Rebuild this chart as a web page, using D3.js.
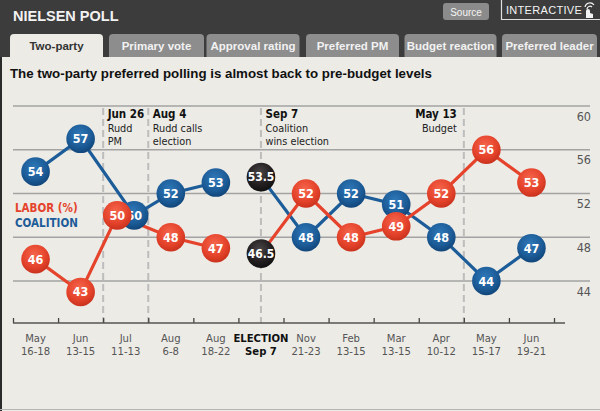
<!DOCTYPE html>
<html><head><meta charset="utf-8">
<script src="https://cdn.jsdelivr.net/npm/d3@7"></script>
<style>
html,body{margin:0;padding:0;background:#3c3c3c;}
svg{display:block;}
</style></head>
<body>
<svg id="chart" width="600" height="411"></svg>
<script>
// ---- data ----
const monthLabels = ["May","Jun","Jul","Aug","Aug","ELECTION","Nov","Feb","Mar","Apr","May","Jun"];
const dayLabels   = ["16-18","13-15","11-13","6-8","18-22","Sep 7","21-23","13-15","13-15","10-12","15-17","19-21"];
const labor     = [46,43,50,48,47,46.5,52,48,49,52,56,53];
const coalition = [54,57,50,52,53,53.5,48,52,51,48,44,47];
const electionIndex = 5;           // result point, drawn in black
const segments = [[0,4],[5,11]];   // connected runs of polls
const yTicks = [44,48,52,56,60];
const eventPos   = [2, 3, 5.5, 10];   // on the category index axis
const eventDates = ["Jun 26","Aug 4","Sep 7","May 13"];
const eventText  = [["Rudd","PM"],["Rudd calls","election"],["Coalition","wins election"],["Budget"]];
const eventAlign = ["start","start","start","end"];
const tabs = ["Two-party","Primary vote","Approval rating","Preferred PM","Budget reaction","Preferred leader"];
const title = "The two-party preferred polling is almost back to pre-budget levels";

const svg = d3.select("#chart");
const RED = "#e5432b", BLUE = "#1c5c98", BLACK = "#231f20";
const BG = "#ecebe6";
const cond = "'DejaVu Sans Condensed','DejaVu Sans',sans-serif";
const arial = "'Liberation Sans',Arial,sans-serif";

// ---- header ----
svg.append("rect").attr("x",0).attr("y",0).attr("width",600).attr("height",411).attr("fill","#3c3c3c");
svg.append("text").attr("x",13).attr("y",20.5).text("NIELSEN POLL")
  .attr("font-family",arial).attr("font-weight","bold").attr("font-size",14.5).attr("fill","#f2f2f2");
svg.append("rect").attr("x",443).attr("y",3).attr("width",46).attr("height",17).attr("rx",3).attr("fill","#8b8b8b");
svg.append("text").attr("x",466).attr("y",15.5).attr("text-anchor","middle").text("Source")
  .attr("font-family",arial).attr("font-size",10).attr("fill","#f4f4f4");
svg.append("path").attr("d","M501.5,0 V19.5 H600").attr("fill","none").attr("stroke","#e0e0e0").attr("stroke-width",1.2);
svg.append("text").attr("x",506).attr("y",14).text("INTERACTIVE")
  .attr("font-family",arial).attr("font-size",11).attr("letter-spacing",0.3).attr("fill","#f4f4f4");
// small touch icon
const ic = svg.append("g").attr("transform","translate(589,8)").attr("fill","none").attr("stroke","#f4f4f4").attr("stroke-width",1.2);
ic.append("path").attr("d","M-4,-1 A5,5 0 0 1 5,-3");
ic.append("path").attr("d","M-2,1 A3,3 0 0 1 3,-1");
ic.append("path").attr("d","M-3,10 L-3,3 Q-3,1 -1,1 Q1,1 1,3 L1,5 L4,6 L4,10 Z").attr("fill","#f4f4f4").attr("stroke","none");

// ---- tabs ----
const tabX = [10,109,206.5,306,404.5,502];
const tabW = [93,95,93,93,92,95];
tabs.forEach((t,i)=>{
  const x=tabX[i], w=tabW[i], y=34, h=24, r=4;
  svg.append("path")
    .attr("d",`M${x},${y+h} V${y+r} Q${x},${y} ${x+r},${y} H${x+w-r} Q${x+w},${y} ${x+w},${y+r} V${y+h} Z`)
    .attr("fill", i===0 ? BG : "#8d8d8d");
  svg.append("text").attr("x",x+w/2).attr("y",50).attr("text-anchor","middle").text(t)
    .attr("font-family",arial).attr("font-weight","bold").attr("font-size",11.5)
    .attr("fill", i===0 ? "#333" : "#f2f2f2");
});

// ---- content panel ----
svg.append("rect").attr("x",0).attr("y",57).attr("width",600).attr("height",354).attr("fill",BG);
svg.append("line").attr("x1",1).attr("x2",1).attr("y1",57).attr("y2",411).attr("stroke","#2a2a2a").attr("stroke-width",2);
svg.append("line").attr("x1",0).attr("x2",600).attr("y1",409.5).attr("y2",409.5).attr("stroke","#b5b5b5").attr("stroke-width",1);

svg.append("text").attr("x",10).attr("y",78).text(title)
  .attr("font-family",arial).attr("font-weight","bold").attr("font-size",13.3).attr("fill","#111");

// ---- scales ----
const xi = d3.scaleLinear().domain([0,12]).range([13,554]);      // index axis (band edges)
const xBand = d3.scaleBand().domain(d3.range(12)).range([13,554]);
const y = d3.scaleLinear().domain([44,60]).range([281,106]);

// gridlines + right labels
const grid = svg.append("g");
grid.selectAll("line").data(yTicks).join("line")
  .attr("x1",13).attr("x2",590).attr("y1",d=>y(d)).attr("y2",d=>y(d))
  .attr("stroke","#a3a3a3").attr("stroke-width",1.3);
grid.selectAll("text").data(yTicks).join("text")
  .attr("x",591).attr("y",d=>y(d)+14.5).attr("text-anchor","end").text(d=>d)
  .attr("font-family",cond).attr("font-size",12.5).attr("fill","#555");

// event dashed lines
svg.append("g").selectAll("line").data(eventPos).join("line")
  .attr("x1",d=>xi(d)).attr("x2",d=>xi(d)).attr("y1",y(60)+2).attr("y2",323)
  .attr("stroke","#bdbdbd").attr("stroke-width",2).attr("stroke-dasharray","7,4");

// event annotations
eventPos.forEach((p,i)=>{
  const anchor = eventAlign[i];
  const x = anchor==="start" ? xi(p)+4.5 : xi(p)-7;
  svg.append("text").attr("x",x).attr("y",118).attr("text-anchor",anchor)
    .attr("font-family",cond).attr("font-size",11.5).attr("font-weight","bold").attr("fill","#111")
    .text(eventDates[i]);
  eventText[i].forEach((t,k)=>{
    svg.append("text").attr("x",x).attr("y",132+k*12.8).attr("text-anchor",anchor)
      .attr("font-family",cond).attr("font-size",10.8).attr("fill","#222").text(t);
  });
});

// x axis
const axisG = svg.append("g").attr("transform","translate(0,323)");
axisG.call(d3.axisBottom(xi).tickValues(d3.range(13)).tickSize(-5).tickSizeOuter(0).tickFormat(""));
axisG.select(".domain").remove();
axisG.selectAll(".tick line").attr("stroke","#444").attr("stroke-width",1.3);
axisG.append("line").attr("x1",xi(0)).attr("x2",xi(12)+11).attr("y1",0).attr("y2",0).attr("stroke","#555").attr("stroke-width",1.6);

const labG = svg.append("g").attr("transform","translate(0,323)");
labG.call(d3.axisBottom(xBand).tickSize(0).tickFormat(""));
labG.select(".domain").remove();
labG.selectAll(".tick").each(function(d){
  const sel = d3.select(this);
  const common = s => s.attr("text-anchor","middle").attr("x",0)
    .attr("font-family",cond).attr("font-size",11.2).attr("fill", d===electionIndex ? "#111" : "#555")
    .attr("font-weight", d===electionIndex ? "bold" : "normal");
  sel.append("text").call(common).attr("y",19).text(monthLabels[d]);
  sel.append("text").call(common).attr("y",32.2).text(dayLabels[d]);
});

// legend
svg.append("text").attr("x",15).attr("y",211.5).text("LABOR (%)")
  .attr("font-family",cond).attr("font-weight","bold").attr("font-size",11.5).attr("fill",RED);
svg.append("text").attr("x",15).attr("y",227).text("COALITION")
  .attr("font-family",cond).attr("font-weight","bold").attr("font-size",11.5).attr("fill",BLUE);

// ---- points ----
const dodge = 8.5;
function px(i, series){
  const c = xBand(i) + xBand.bandwidth()/2;
  if (labor[i] === coalition[i]) return series==="labor" ? c-dodge : c+dodge;
  return c;
}

// gradients
const defs = svg.append("defs");
[["gRed","#f4664c",RED,"#c9321d"],["gBlue","#2f78b8",BLUE,"#11467a"],["gBlack","#4a4546",BLACK,"#111"]].forEach(([id,a,b,c])=>{
  const g = defs.append("radialGradient").attr("id",id).attr("cx","45%").attr("cy","35%").attr("r","65%");
  g.append("stop").attr("offset","0%").attr("stop-color",a);
  g.append("stop").attr("offset","65%").attr("stop-color",b);
  g.append("stop").attr("offset","100%").attr("stop-color",c);
});

const line = (series, vals)=> d3.line().x(d=>px(d,series)).y(d=>y(vals[d]));
const lineG = svg.append("g").attr("fill","none").attr("stroke-width",3.2);
segments.forEach(([a,b])=>{
  const idx = d3.range(a,b+1);
  lineG.append("path").attr("d",line("coalition",coalition)(idx)).attr("stroke",BLUE);
});
segments.forEach(([a,b])=>{
  const idx = d3.range(a,b+1);
  lineG.append("path").attr("d",line("labor",labor)(idx)).attr("stroke",RED);
});

function drawDots(series, vals, fill){
  const g = svg.append("g");
  const idx = d3.range(vals.length).filter(i=>i!==electionIndex);
  const n = g.selectAll("g").data(idx).join("g")
    .attr("transform",i=>`translate(${px(i,series)},${y(vals[i])})`);
  n.append("circle").attr("r",14.3).attr("fill",fill);
  n.append("text").attr("text-anchor","middle").attr("dy","0.36em").text(i=>vals[i])
    .attr("font-family",cond).attr("font-weight","bold").attr("font-size",12.5).attr("fill","#fff");
}
drawDots("coalition",coalition,"url(#gBlue)");
drawDots("labor",labor,"url(#gRed)");

// election result points
[coalition[electionIndex], labor[electionIndex]].forEach(v=>{
  const g = svg.append("g").attr("transform",`translate(${px(electionIndex,"x")},${y(v)})`);
  g.append("circle").attr("r",14.3).attr("fill","url(#gBlack)");
  g.append("text").attr("text-anchor","middle").attr("dy","0.36em").text(v)
    .attr("font-family",cond).attr("font-weight","bold").attr("font-size",12).attr("fill","#fff");
});
</script>
</body></html>
